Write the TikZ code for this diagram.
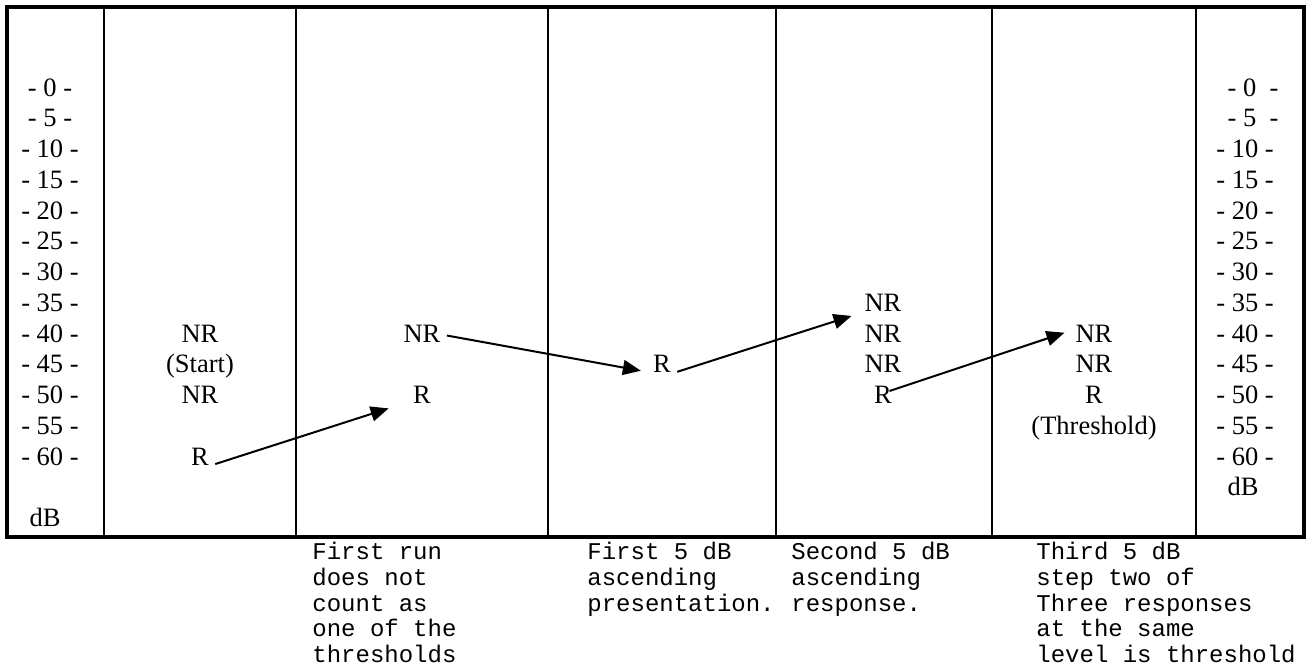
\documentclass[tikz,border=0pt]{standalone}
\usepackage{fontspec}
\setmainfont{Liberation Serif}
\setmonofont{Liberation Mono}
\usetikzlibrary{positioning}
\usetikzlibrary{arrows.meta}

\begin{document}
\begin{tikzpicture}[x=0.5pt,y=-0.5pt,>={Triangle[length=9pt,width=7.5pt]},
	node distance=15.375pt,
	level label/.style={font=\fontsize{13.25pt}{15pt}\selectfont,inner sep=3pt,
		text height=0.66em,text depth=0pt},
	resp node/.style={level label},
	note text/.style={font=\fontsize{12pt}{12.8pt}\selectfont\ttfamily,align=left,
		anchor=north west,inner sep=0pt}]
	
	\useasboundingbox (0,0) rectangle (1309,665);
	
	% frame and columns
	\draw[line width=2pt] (7,7) rectangle (1304,537);
	\foreach \xx in {104,296,548,776,992,1196}
	\draw[line width=1.2pt] (\xx,7) -- (\xx,537);
	
	% dB scales
	\foreach \v [count=\k from 0] in {0,5,...,60}
	\node[level label] (ll\v) at (50,89.5+30.75*\k) {- \v\ -};
	\node[level label] (ldb) at (45,520) {dB};
	\node[level label] (rl0) at (1253,89.5) {- 0 \ -};
	\node[level label] (rl5) at (1253,120.25) {- 5 \ -};
	\foreach \v [count=\k from 2] in {10,15,...,60}
	\node[level label] (rl\v) at (1245,89.5+30.75*\k) {- \v\ -};
	\node[level label] (rdb) at (1243,489.25) {dB};
	
	% responses
	\node[resp node] (c1a) at (200,335.5) {NR};
	\node[resp node] (c1b) [below of=c1a] {(Start)};
	\node[resp node] (c1c) [below of=c1b] {NR};
	\node[resp node] (c1d) at (200,458.5) {R};
	
	\node[resp node] (c2a) at (422,335.5) {NR};
	\node[resp node] (c2b) [below of=c2a,node distance=30.75pt] {R};
	
	\node[resp node] (c3a) at (662,366.25) {R};
	
	\node[resp node] (c4a) at (883,304.75) {NR};
	\node[resp node] (c4b) [below of=c4a] {NR};
	\node[resp node] (c4c) [below of=c4b] {NR};
	\node[resp node] (c4d) [below of=c4c] {R};
	
	\node[resp node] (c5a) at (1094,335.5) {NR};
	\node[resp node] (c5b) [below of=c5a] {NR};
	\node[resp node] (c5c) [below of=c5b] {R};
	\node[resp node] (c5d) [below of=c5c] {(Threshold)};
	
	\path[->,line width=1pt]
	(c1d.-20) edge [shorten >=9.5pt] (c2b.200)
	(c2a.east) edge [shorten >=3pt] (c3a.200)
	(c3a.-20) edge [shorten >=3.5pt] (c4a.200)
	([shift={(-4.4pt,3pt)}]c4d.east) edge [shorten >=2.5pt] (c5a.170);
	
	% notes under the columns
	\node[note text] (n1) at (312,542) {First run\\does not\\count as\\one of the\\thresholds};
	\node[note text] (n2) at (587,542) {First 5 dB\\ascending\\presentation.};
	\node[note text] (n3) at (791,542) {Second 5 dB\\ascending\\response.};
	\node[note text] (n4) at (1036,542) {Third 5 dB\\step two of\\Three responses\\at the same\\level is threshold};
\end{tikzpicture}
\end{document}
